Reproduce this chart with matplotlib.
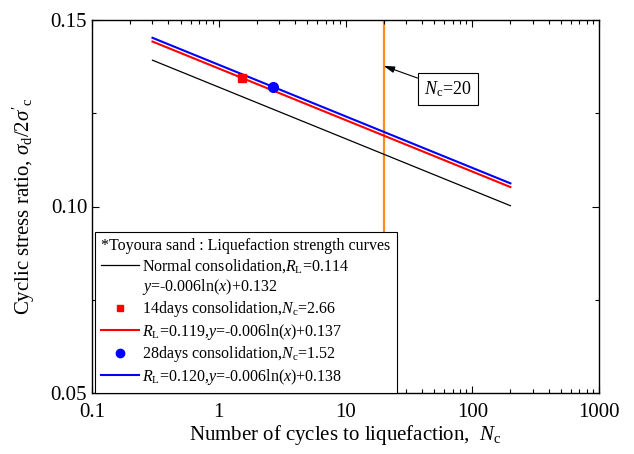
import numpy as np
import matplotlib

matplotlib.use("Agg")
import matplotlib.pyplot as plt
from matplotlib.lines import Line2D
from matplotlib.ticker import FixedLocator, FuncFormatter, LogLocator, NullFormatter

plt.rcParams["font.family"] = ["Liberation Serif", "DejaVu Serif"]
plt.rcParams["mathtext.fontset"] = "custom"
plt.rcParams["mathtext.rm"] = "Liberation Serif"
plt.rcParams["mathtext.it"] = "Liberation Serif:italic"

# Fitted strength curves y = a*ln(x) + b over the tested range of cycles
FIT_RANGE = [0.3, 200]
FIT_SLOPE = -0.006
FIT_INTERCEPTS = [0.132, 0.137, 0.138]
FIT_COLORS = ["black", "red", "blue"]
FIT_WIDTHS = [0.9, 1.5, 1.5]

# Cured specimens: number of cycles measured for each curing period
CURED_NC = [1.52, 2.66]
CURED_COLORS = ["red", "blue"]
CURED_MARKERS = ["s", "o"]
CURED_SIZES = [6, 7]

NC_REFERENCE = 20
X_TICKS = [0.1, 1, 10, 100, 1000]
Y_TICKS = [0.05, 0.10, 0.15]


def fit_curve(intercept, x):
    return FIT_SLOPE * np.log(x) + intercept


fig = plt.figure(figsize=(6.34, 4.54), dpi=100)
ax = fig.add_axes([92 / 634, 61 / 454, 507 / 634, 373 / 454])

x_fit = np.array(FIT_RANGE)
for b, c, lw in zip(FIT_INTERCEPTS, FIT_COLORS, FIT_WIDTHS):
    ax.plot(x_fit, fit_curve(b, x_fit), color=c, lw=lw)

for nc, b, c, m, s in zip(CURED_NC, FIT_INTERCEPTS[1:], CURED_COLORS, CURED_MARKERS, CURED_SIZES):
    ax.plot([nc], [fit_curve(b, nc)], marker=m, color=c, ms=s, ls="none", zorder=4)

ax.axvline(NC_REFERENCE, color="#ff8c1a", lw=1.6, zorder=1)
ax.annotate(
    "$N_\\mathrm{c}$=20",
    xy=(NC_REFERENCE, 0.1377),
    xytext=(448, 365),
    textcoords="figure pixels",
    ha="center",
    va="center",
    fontsize=13,
    bbox=dict(boxstyle="square,pad=0.35", fc="white", ec="black", lw=0.8),
    arrowprops=dict(arrowstyle="-|>,head_length=0.5,head_width=0.15", color="black", lw=0.8,
                    shrinkA=0, shrinkB=0),
)

ax.set_xscale("log")
ax.set_xlim(X_TICKS[0], X_TICKS[-1])
ax.set_ylim(Y_TICKS[0], Y_TICKS[-1])
ax.xaxis.set_major_locator(FixedLocator(X_TICKS))
ax.xaxis.set_major_formatter(FuncFormatter(lambda v, _: f"{v:g}"))
ax.xaxis.set_minor_locator(LogLocator(base=10, subs=np.arange(2, 10)))
ax.xaxis.set_minor_formatter(NullFormatter())
ax.yaxis.set_major_locator(FixedLocator(Y_TICKS))
ax.yaxis.set_minor_locator(FixedLocator([0.075, 0.125]))
ax.yaxis.set_major_formatter(FuncFormatter(lambda v, _: f"{v:.2f}"))
ax.tick_params(which="both", direction="in", top=True, right=True, labelsize=15, width=0.8)
ax.tick_params(which="major", length=5)
ax.tick_params(which="minor", length=3)
ax.tick_params(axis="x", pad=7)
for sp in ax.spines.values():
    sp.set_linewidth(1.0)

ax.set_xlabel("Number of cycles to liquefaction,  $N_\\mathrm{c}$", fontsize=15, labelpad=1)
ax.set_ylabel("Cyclic stress ratio, $\\sigma_\\mathrm{d}/2\\sigma'_\\mathrm{c}$", fontsize=15, labelpad=10)

blank = Line2D([], [], color="none")
handles = [
    Line2D([], [], color="black", lw=0.9),
    blank,
    Line2D([], [], color="red", marker="s", ms=5, ls="none"),
    Line2D([], [], color="red", lw=1.5),
    Line2D([], [], color="blue", marker="o", ms=6, ls="none"),
    Line2D([], [], color="blue", lw=1.5),
]
labels = [
    "Normal consolidation,$R_\\mathrm{L}$=0.114",
    "$y$=-0.006ln($x$)+0.132",
    "14days consolidation,$N_\\mathrm{c}$=2.66",
    "$R_\\mathrm{L}$=0.119,$y$=-0.006ln($x$)+0.137",
    "28days consolidation,$N_\\mathrm{c}$=1.52",
    "$R_\\mathrm{L}$=0.120,$y$=-0.006ln($x$)+0.138",
]
leg = ax.legend(
    handles,
    labels,
    title="*Toyoura sand : Liquefaction strength curves",
    title_fontsize=11.5,
    fontsize=11.5,
    loc="lower left",
    bbox_to_anchor=(0.006, 0.0),
    borderaxespad=0,
    borderpad=0.4,
    handlelength=2.35,
    handletextpad=0.2,
    labelspacing=0.15,
    fancybox=False,
    framealpha=1,
    edgecolor="black",
    alignment="left",
)
leg.get_frame().set_linewidth(0.8)
leg.set_zorder(5)

fig.savefig("out.png", dpi=100)
